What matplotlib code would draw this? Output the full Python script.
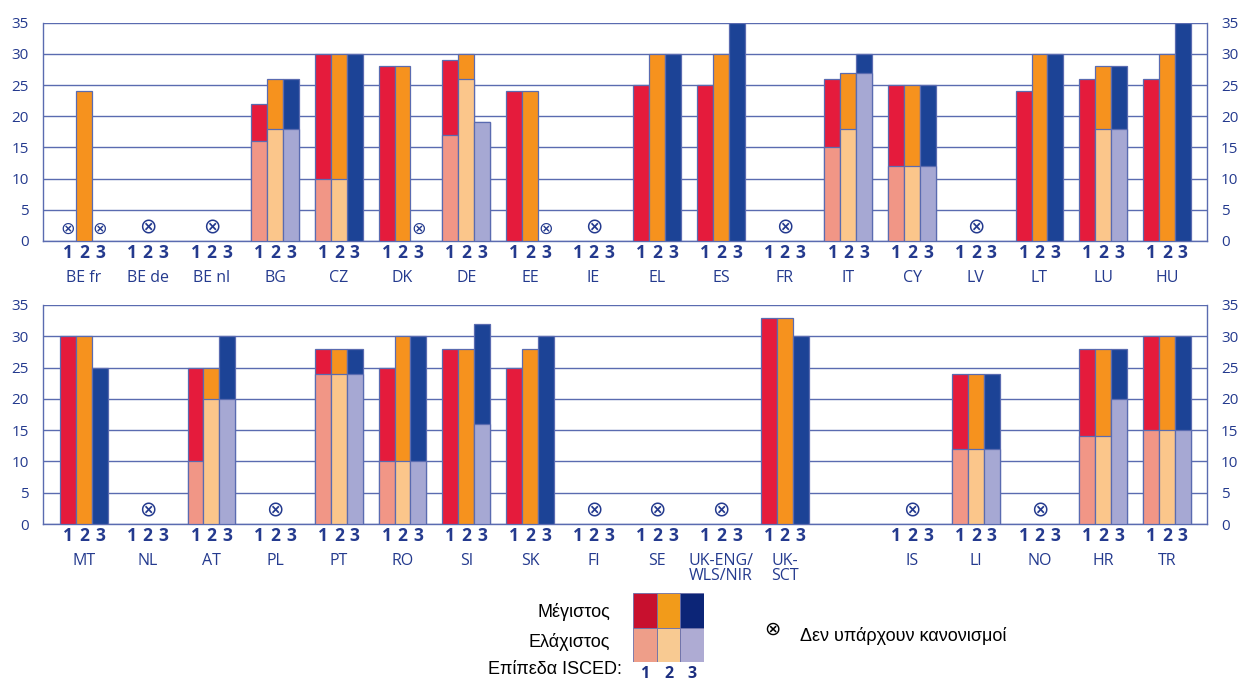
import matplotlib.pyplot as plt
import numpy as np
from matplotlib.transforms import blended_transform_factory

nan = np.nan

# ---- data -------------------------------------------------------------
top_countries = ["BE fr", "BE de", "BE nl", "BG", "CZ", "DK", "DE", "EE", "IE",
                 "EL", "ES", "FR", "IT", "CY", "LV", "LT", "LU", "HU"]
top_max_1 = [nan, nan, nan, 22, 30, 28, 29, 24, nan, 25, 25, nan, 26, 25, nan, 24, 26, 26]
top_max_2 = [24, nan, nan, 26, 30, 28, 30, 24, nan, 30, 30, nan, 27, 25, nan, 30, 28, 30]
top_max_3 = [nan, nan, nan, 26, 30, nan, 19, nan, nan, 30, 35, nan, 30, 25, nan, 30, 28, 35]
top_min_1 = [nan, nan, nan, 16, 10, nan, 17, nan, nan, nan, nan, nan, 15, 12, nan, nan, nan, nan]
top_min_2 = [nan, nan, nan, 18, 10, nan, 26, nan, nan, nan, nan, nan, 18, 12, nan, nan, 18, nan]
top_min_3 = [nan, nan, nan, 18, nan, nan, 19, nan, nan, nan, nan, nan, 27, 12, nan, nan, 18, nan]

bottom_countries = ["MT", "NL", "AT", "PL", "PT", "RO", "SI", "SK", "FI", "SE",
                    "UK-ENG/\nWLS/NIR", "UK-\nSCT", "", "IS", "LI", "NO", "HR", "TR"]
bottom_max_1 = [30, nan, 25, nan, 28, 25, 28, 25, nan, nan, nan, 33, nan, nan, 24, nan, 28, 30]
bottom_max_2 = [30, nan, 25, nan, 28, 30, 28, 28, nan, nan, nan, 33, nan, nan, 24, nan, 28, 30]
bottom_max_3 = [25, nan, 30, nan, 28, 30, 32, 30, nan, nan, nan, 30, nan, nan, 24, nan, 28, 30]
bottom_min_1 = [nan, nan, 10, nan, 24, 10, nan, nan, nan, nan, nan, nan, nan, nan, 12, nan, 14, 15]
bottom_min_2 = [nan, nan, 20, nan, 24, 10, nan, nan, nan, nan, nan, nan, nan, nan, 12, nan, 14, 15]
bottom_min_3 = [nan, nan, 20, nan, 24, 10, 16, nan, nan, nan, nan, nan, nan, nan, 12, nan, 20, 15]

levels = ["1", "2", "3"]

# ---- style ------------------------------------------------------------
MAX_COLORS = ["#e51b3c", "#f6921e", "#1c4396"]
MIN_COLORS = ["#f19686", "#fbc68b", "#a6a8d3"]
LEG_MAX = ["#c8102e", "#f29b1a", "#0c2577"]
LEG_MIN = ["#ee9e89", "#f8ca92", "#aeabd3"]
LINE = "#5a6bb0"
BLUE = "#243a8e"
FONT = ["Open Sans", "DejaVu Sans"]
W, H = 1239, 681


def draw_panel(ax, countries, maxes, mins):
    x = np.arange(len(countries))
    offsets = [-0.25, 0.0, 0.25]
    for k in range(3):
        ax.bar(x + offsets[k], maxes[k], width=0.25, color=MAX_COLORS[k],
               edgecolor=LINE, linewidth=0.9, zorder=3)
        ax.bar(x + offsets[k], mins[k], width=0.25, color=MIN_COLORS[k],
               edgecolor=LINE, linewidth=0.9, zorder=4)

    ax.set_xlim(-0.644, 17.63)
    ax.set_ylim(0, 35)
    ax.set_yticks(np.arange(0, 36, 5))
    ax.grid(axis="y", color=LINE, linewidth=1.0, zorder=0)
    ax.set_xticks([])
    ax.spines["top"].set_visible(False)
    for side in ["left", "right", "bottom"]:
        ax.spines[side].set_color(LINE)
        ax.spines[side].set_linewidth(1.0)
    ax.tick_params(axis="y", length=0, pad=10, labelright=True, colors=BLUE,
                   labelsize=11)
    for lab in ax.get_yticklabels():
        lab.set_family(FONT)

    trans = blended_transform_factory(ax.transData, ax.transAxes)
    for i, name in enumerate(countries):
        if name == "":
            continue
        for k in range(3):
            ax.annotate(levels[k], xy=(i + offsets[k], 0), xycoords=trans,
                        xytext=(0, -12), textcoords="offset pixels",
                        ha="center", va="center", fontsize=12.5, fontweight="bold",
                        color=BLUE, family=FONT)
        ax.annotate(name, xy=(i, 0), xycoords=trans, xytext=(0, -29),
                    textcoords="offset pixels", ha="center", va="top",
                    fontsize=11.5, color=BLUE, family=FONT, linespacing=0.95)

        missing = [np.isnan(maxes[k][i]) for k in range(3)]
        if all(missing):
            ax.text(i, 2.1, "\u2297", ha="center", va="center", fontsize=15,
                    color=BLUE, family="DejaVu Sans", zorder=5)
        else:
            for k in range(3):
                if missing[k]:
                    ax.text(i + offsets[k], 1.9, "\u2297", ha="center", va="center",
                            fontsize=12.5, color=BLUE, family="DejaVu Sans", zorder=5)


def main():
    fig = plt.figure(figsize=(W / 100, H / 100), dpi=100)

    left, right = 43 / W, 1207 / W
    ax_top = fig.add_axes([left, 1 - 241 / H, right - left, (241 - 22.7) / H])
    ax_bot = fig.add_axes([left, 1 - 524 / H, right - left, (524 - 305) / H])

    draw_panel(ax_top, top_countries,
               [top_max_1, top_max_2, top_max_3], [top_min_1, top_min_2, top_min_3])
    draw_panel(ax_bot, bottom_countries,
               [bottom_max_1, bottom_max_2, bottom_max_3],
               [bottom_min_1, bottom_min_2, bottom_min_3])

    # legend key
    ax_leg = fig.add_axes([633 / W, 1 - 662 / H, 71 / W, 69 / H])
    ax_leg.bar(np.arange(3), [1, 1, 1], bottom=1, width=1.0, color=LEG_MAX,
               edgecolor="#6b6fa8", linewidth=0.6)
    ax_leg.bar(np.arange(3), [1, 1, 1], bottom=0, width=1.0, color=LEG_MIN,
               edgecolor="#6b6fa8", linewidth=0.6)
    ax_leg.set_xlim(-0.5, 2.5)
    ax_leg.set_ylim(0, 2)
    ax_leg.axis("off")
    for k in range(3):
        ax_leg.text(k, -0.35, levels[k], ha="center", va="center", fontsize=11.5,
                    fontweight="bold", color="#1c2f80", family=FONT)

    fig.text(610 / W, 1 - 612 / H, "Μέγιστος", ha="right", va="center",
             fontsize=13, family="Liberation Sans")
    fig.text(610 / W, 1 - 642 / H, "Ελάχιστος", ha="right", va="center",
             fontsize=13, family="Liberation Sans")
    fig.text(622 / W, 1 - 670 / H, "Επίπεδα ISCED:", ha="right", va="center",
             fontsize=13, family="Liberation Sans")
    fig.text(772 / W, 1 - 629 / H, "\u2297", ha="center", va="center",
             fontsize=14, family="DejaVu Sans")
    fig.text(800 / W, 1 - 636 / H, "Δεν υπάρχουν κανονισμοί", ha="left",
             va="center", fontsize=13, family="Liberation Sans")

    fig.savefig("out.png", dpi=100)


if __name__ == "__main__":
    main()
